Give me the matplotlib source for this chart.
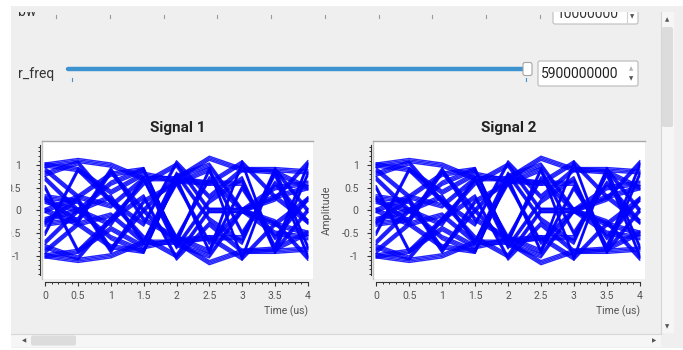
import numpy as np
import matplotlib
matplotlib.use("Agg")
import matplotlib.pyplot as plt
from matplotlib.patches import Rectangle, FancyBboxPatch
from matplotlib.lines import Line2D
from matplotlib.transforms import Affine2D, Bbox
from matplotlib.ticker import FixedLocator

W, H = 683, 350

# eye diagram: each trace sampled every 0.5 us
T_US = [0, 0.5, 1, 1.5, 2, 2.5, 3, 3.5, 4]
SIGNAL_1 = [
    [1.00, 1.10, 1.00, 0.70, 0.70, 1.15, 0.90, 0.90, 0.85],
    [-1.00, -1.10, -1.00, -0.70, -0.70, -1.15, -0.90, -0.90, -0.85],
    [0.90, 0.30, 0.80, 0.90, -0.70, 0.90, -1.05, 0.90, -0.80],
    [-0.90, -0.30, -0.80, -0.90, 0.70, -0.90, 1.05, -0.90, 0.80],
    [0.50, -0.90, -0.20, 0.60, 1.00, 0.00, 0.00, 0.25, 1.05],
    [-0.50, 0.90, 0.20, -0.60, -1.00, 0.00, 0.00, -0.25, -1.05],
    [0.20, 0.00, -0.60, -0.90, 0.70, 0.60, 1.05, 0.30, 0.50],
    [-0.20, 0.00, 0.60, 0.90, -0.70, -0.60, -1.05, -0.30, -0.50],
    [0.00, 0.30, 0.10, 0.70, -0.60, -0.90, 0.50, -0.60, 0.25],
    [0.00, -0.30, -0.10, -0.70, 0.60, 0.90, -0.50, 0.60, -0.25],
    [0.70, 0.00, 0.30, -0.70, 0.80, -0.20, -0.70, 0.90, 0.00],
    [-0.70, 0.00, -0.30, 0.70, -0.80, 0.20, 0.70, -0.90, 0.00],
    [1.00, 0.90, 0.40, 0.80, 0.65, 0.60, 0.60, -0.80, 1.00],
    [-1.00, -0.90, -0.40, -0.80, -0.65, -0.60, -0.60, 0.80, -1.00],
    [0.30, 0.20, -0.90, 0.20, 0.60, -0.70, 0.00, 0.50, 0.60],
    [-0.30, -0.20, 0.90, -0.20, -0.60, 0.70, 0.00, -0.50, -0.60],
    [0.80, 1.05, 0.20, -0.30, 1.05, 0.30, 0.90, 0.85, 0.50],
    [-0.80, -1.05, -0.20, 0.30, -1.05, -0.30, -0.90, -0.85, -0.50],
    [0.25, -0.25, 0.85, 0.00, 0.75, 1.00, 0.00, -0.30, 0.25],
    [-0.25, 0.25, -0.85, 0.00, -0.75, -1.00, 0.00, 0.30, -0.25],
]
SIGNAL_2 = SIGNAL_1
# small amplitude scatter between repeated symbols (bundle thickness)
SPREAD = [-0.045, -0.015, 0.015, 0.045]

TITLES = ["Signal 1", "Signal 2"]
X_TICKS = [0, 0.5, 1, 1.5, 2, 2.5, 3, 3.5, 4]
Y_TICKS = [-1, -0.5, 0, 0.5, 1]
X_LABEL = "Time (us)"
Y_LABEL = "Amplitude"
FREQ_VALUE = "5900000000"
BW_VALUE = "10000000"

plt.rcParams['font.family'] = ['Roboto', 'DejaVu Sans']
plt.rcParams['axes.unicode_minus'] = False

fig = plt.figure(figsize=(W / 100, H / 100), dpi=100, facecolor='white')
# pixel coords, origin top-left
PX = Affine2D().scale(1 / 100, -1 / 100).translate(0, H / 100) + fig.dpi_scale_trans
VIEW = Bbox.from_extents(11, H - 333, 661, H - 12)


def box(x0, y0, x1, y1, fc, ec='none', lw=0.8, r=0, z=1, clip=True):
    if r:
        p = FancyBboxPatch((x0, y0), x1 - x0, y1 - y0, boxstyle=f"round,pad=0,rounding_size={r}",
                           fc=fc, ec=ec, lw=lw, transform=PX, zorder=z)
    else:
        p = Rectangle((x0, y0), x1 - x0, y1 - y0, fc=fc, ec=ec, lw=lw, transform=PX, zorder=z)
    fig.add_artist(p)
    if clip:
        p.set_clip_box(VIEW)
    return p


def line(xs, ys, color, lw=0.8, clip=True, **kw):
    l = Line2D(xs, ys, color=color, lw=lw, transform=PX, **kw)
    fig.add_artist(l)
    if clip:
        l.set_clip_box(VIEW)


def label(x, y, s, size, clip=True, **kw):
    t = fig.text(x, y, s, transform=PX, fontsize=size, **kw)
    if clip:
        t.set_clip_box(VIEW)
        t.set_clip_on(True)
    return t


# window background
box(11, 6, 683, 348, '#efefef', z=-1, clip=False)

# top (bw) row, scrolled mostly out of view
label(18, 15.5, "bw", 10, color='#333333', va='baseline')
for x in np.linspace(56, 540, 10):
    line([x, x], [15, 18], '#9a9a9a', lw=0.8)
box(553, 2, 638, 24, 'white', ec='#bdbdbd', r=2)
line([627, 627], [12, 23], '#d0d0d0')
label(557, 17.5, BW_VALUE, 10, color='#333333', va='baseline')
label(632, 17, "▼", 4, color='#555555', ha='center', va='center', family='DejaVu Sans')

# r_freq slider
label(18, 78, "r_freq", 10, color='#333333', va='baseline')
line([68, 524], [68.5, 68.5], '#3d93cf', lw=3.2, solid_capstyle='round')
for x in [72, 526]:
    line([x, x], [78, 80.5], '#3d93cf', lw=0.8)
box(523, 62.5, 532, 75.5, 'white', ec='#a5a5a5', r=2, z=2)
box(538, 61, 638, 86, 'white', ec='#b8b8b8', r=2)
label(541, 74.5, FREQ_VALUE, 10, color='#222222', va='center')
label(631, 68.5, "▲", 4, color='#b0b0b0', ha='center', va='center', family='DejaVu Sans')
label(631, 78.5, "▼", 4, color='#555555', ha='center', va='center', family='DejaVu Sans')

# scroll bars
box(661, 12, 674, 333, '#f6f6f6', clip=False)
line([661, 661], [12, 333], '#d6d6d6', clip=False)
box(662, 27, 673, 127, '#dcdcdc', r=2, clip=False)
label(667, 20, "▲", 4, clip=False, color='#555555', ha='center', va='center', family='DejaVu Sans')
label(667, 327, "▼", 4, clip=False, color='#555555', ha='center', va='center', family='DejaVu Sans')
box(11, 334, 661, 347, '#f6f6f6', clip=False)
line([11, 661], [334, 334], '#d6d6d6', clip=False)
box(31, 335.5, 76, 345.5, '#dcdcdc', r=2, clip=False)
label(24.5, 340.5, "◀", 4, clip=False, color='#555555', ha='center', va='center', family='DejaVu Sans')
label(654, 340.5, "▶", 4, clip=False, color='#555555', ha='center', va='center', family='DejaVu Sans')

# the two eye diagrams
AX_BOX = [(42, 141, 313, 279), (373, 141, 645, 279)]
Y_PAD = [10.6, 5.8]
for i, (traces, (x0, y0, x1, y1)) in enumerate(zip([SIGNAL_1, SIGNAL_2], AX_BOX)):
    ax = fig.add_axes([x0 / W, 1 - y1 / H, (x1 - x0) / W, (y1 - y0) / H])
    ax.set_facecolor('white')
    for tr in traces:
        for d in SPREAD:
            ax.plot(T_US, np.array(tr) + d, color='#0000ff', lw=1.0, alpha=0.85)
    ax.set_xlim(-0.05, 4.08)
    ax.set_ylim(-1.51, 1.53)

    ax.spines['right'].set_visible(False)
    ax.spines['top'].set_color('#a8a8a8')
    ax.spines['top'].set_linewidth(1.0)
    ax.add_line(Line2D([0, 0], [0, 1], transform=ax.transAxes, color='#c4c4c4', lw=1.0, clip_on=False))
    for s in ['left', 'bottom']:
        ax.spines[s].set_color('#333333')
        ax.spines[s].set_linewidth(0.8)
    ax.spines['left'].set_position(('outward', 1.5))
    ax.spines['left'].set_bounds(-1.43, 1.45)
    ax.spines['bottom'].set_position(('outward', 2.4))
    ax.spines['bottom'].set_bounds(0, 4)

    ax.set_xticks(X_TICKS, labels=[f"{v:g}" for v in X_TICKS])
    ax.set_yticks(Y_TICKS, labels=[f"{v:g}" for v in Y_TICKS])
    ax.xaxis.set_minor_locator(FixedLocator(np.round(np.arange(0, 41) * 0.1, 1)))
    ax.yaxis.set_minor_locator(FixedLocator(np.round(np.arange(-14, 15) * 0.1, 1)))
    ax.tick_params(which='major', length=3, width=0.8, color='#333333', labelcolor='#555555', labelsize=7.5)
    ax.tick_params(which='minor', length=1.6, width=0.7, color='#333333')
    ax.tick_params(axis='x', which='major', pad=3)
    ax.tick_params(axis='y', which='major', pad=Y_PAD[i])

    ax.set_title(TITLES[i], fontsize=11, fontweight='bold', color='#222222', pad=6.5)
    ax.set_xlabel(X_LABEL, fontsize=7.5, color='#555555', ha='right', va='center')
    ax.xaxis.set_label_coords(0.981, -0.232)
    if i == 1:
        # the left plot's axis label is scrolled out of view
        ax.set_ylabel(Y_LABEL, fontsize=7.8, color='#555555', va='center')
        ax.yaxis.set_label_coords(-0.169, 0.5)

    for t in ax.get_yticklabels():
        t.set_clip_box(VIEW)
        t.set_clip_on(True)

fig.savefig("out.png", dpi=100, facecolor=fig.get_facecolor())
